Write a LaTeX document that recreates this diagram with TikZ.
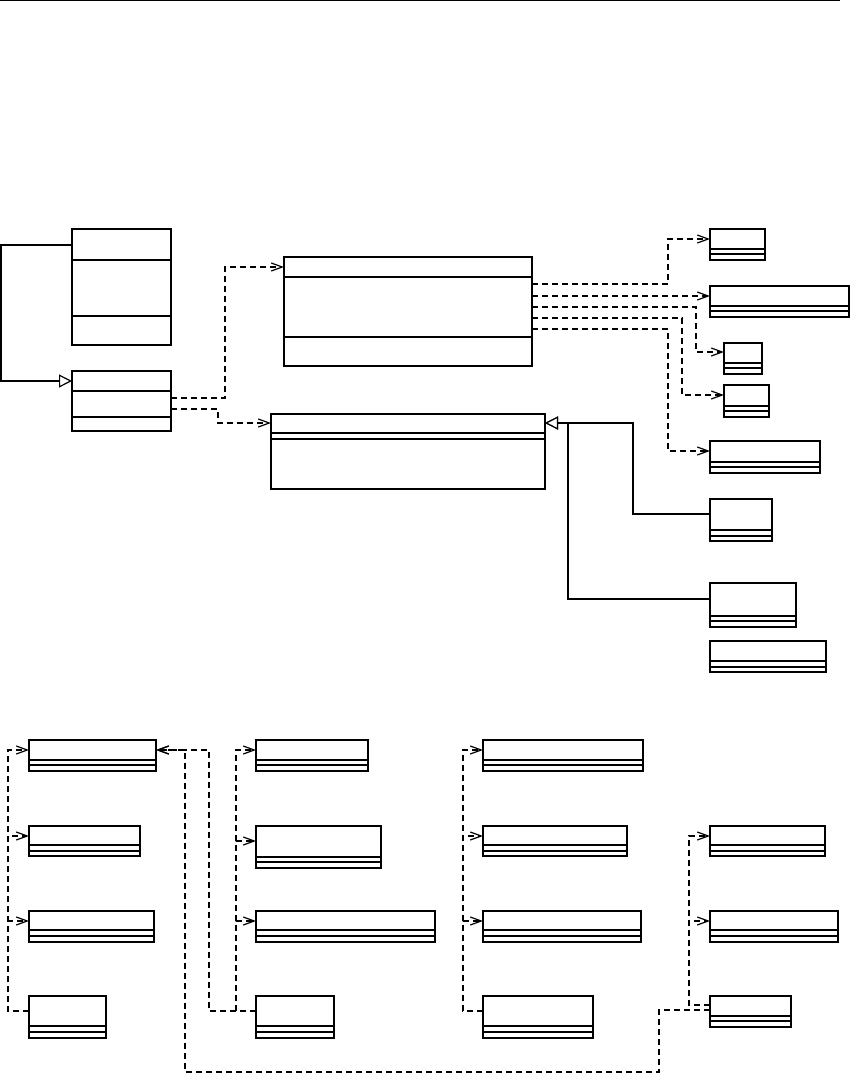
\documentclass[tikz,border=0pt]{standalone}
\usetikzlibrary{arrows.meta}
\newcommand{\umlclass}[7]{%
  \node[cls,minimum width=#4pt,minimum height=#5pt] (#1) at (#2,#3) {};
  \draw ([yshift=-#6pt]#1.north west) -- ([yshift=-#6pt]#1.north east);
  \draw ([yshift=-#7pt]#1.north west) -- ([yshift=-#7pt]#1.north east);}
\begin{document}
\begin{tikzpicture}[x=1pt,y=-1pt,line width=1.3pt,
  cls/.style={draw,rectangle,anchor=north west,inner sep=0pt,outer sep=0pt},
  dep/.style={line width=1.1pt,dash pattern=on 6pt off 4pt,-{Straight Barb[length=11pt,width=8pt,line width=1.2pt]}},
  depb/.style={dep,line width=2.4pt},
  gen/.style={line width=1.2pt,-{Triangle[open,length=13pt,width=13pt,fill=white,line width=1.2pt]}}]
\useasboundingbox (0,0) rectangle (850,1082);
\draw (0,0.6) -- (840,0.6);
\umlclass{A}{72}{229}{99}{116}{31}{87}
\umlclass{B}{72}{371}{99}{60}{20}{46}
\umlclass{C}{284}{257}{248}{109}{20}{80}
\umlclass{D}{271}{414}{274}{75}{19}{25}
\umlclass{E}{710}{229}{55}{31}{20}{25}
\umlclass{F}{710}{286}{139}{31}{20}{25}
\umlclass{G}{724}{343}{38}{31}{20}{25}
\umlclass{H}{724}{385}{45}{32}{21}{26}
\umlclass{I}{710}{441}{110}{32}{21}{26}
\umlclass{J}{710}{499}{62}{42}{31}{37}
\umlclass{K}{710}{583}{86}{44}{33}{38}
\umlclass{L}{710}{641}{116}{31}{20}{26}
\umlclass{M1}{29}{740}{127}{31}{20}{25}
\umlclass{M2}{29}{826}{111}{30}{19}{25}
\umlclass{M3}{29}{911}{125}{31}{19}{25}
\umlclass{M4}{29}{996}{77}{42}{30}{36}
\umlclass{N1}{256}{740}{112}{31}{20}{25}
\umlclass{N2}{256}{826}{125}{42}{31}{36}
\umlclass{N3}{256}{911}{179}{31}{19}{25}
\umlclass{N4}{256}{996}{78}{42}{30}{36}
\umlclass{P1}{483}{740}{160}{31}{20}{25}
\umlclass{P2}{483}{826}{144}{30}{19}{25}
\umlclass{P3}{483}{911}{158}{31}{19}{25}
\umlclass{P4}{483}{996}{110}{42}{30}{36}
\umlclass{Q2}{710}{826}{115}{30}{19}{25}
\umlclass{Q3}{710}{911}{128}{31}{19}{25}
\umlclass{Q4}{710}{996}{81}{31}{20}{25}
\draw[gen,line width=1.8pt] ([yshift=-16pt]A.north west) -- ++(-71,0) |- ([yshift=-10pt]B.north west);
\draw[depb] ([yshift=-27pt]B.north east) -- ++(54,0) |- ([yshift=-10pt]C.north west);
\draw[dep] ([yshift=-38pt]B.north east) -- ++(47,0) |- ([yshift=-9pt]D.north west);
\draw[dep] ([yshift=-27pt]C.north east) -- ++(136,0) |- ([yshift=-10pt]E.north west);
\draw[depb] ([yshift=-39pt]C.north east) -- ([yshift=-10pt]F.north west);
\draw[dep] ([yshift=-50pt]C.north east) -- ++(164,0) |- ([yshift=-9pt]G.north west);
\draw[dep] ([yshift=-61pt]C.north east) -- ++(150,0) |- ([yshift=-10pt]H.north west);
\draw[depb] ([yshift=-72pt]C.north east) -- ++(136,0) |- ([yshift=-10pt]I.north west);
\draw[gen] ([yshift=-16pt]K.north west) -- ++(-142,0) |- ([yshift=-9pt]D.north east);
\draw[gen] ([yshift=-15pt]J.north west) -- ++(-77,0) |- ([yshift=-9pt]D.north east);
\foreach \t/\o in {M1/10,M2/10,M3/10}
  \draw[dep] ([yshift=-15pt]M4.north west) -- ++(-21,0) |- ([yshift=-\o pt]\t.north west);
\foreach \t/\o in {N1/10,N2/15,N3/10}
  \draw[dep] ([yshift=-15pt]N4.north west) -- ++(-20,0) |- ([yshift=-\o pt]\t.north west);
\draw[depb] ([yshift=-15pt]N4.north west) -- ++(-47,0) |- ([yshift=-10pt]M1.north east);
\foreach \t in {P1,P2,P3}
  \draw[depb] ([yshift=-15pt]P4.north west) -- ++(-20,0) |- ([yshift=-10pt]\t.north west);
\foreach \t in {Q2,Q3}
  \draw[dep] ([yshift=-9pt]Q4.north west) -- ++(-21,0) |- ([yshift=-10pt]\t.north west);
\draw[dep] ([yshift=-14pt]Q4.north west) -- ++(-51,0) |- (185,1072) |- ([yshift=-10pt]M1.north east);
\end{tikzpicture}
\end{document}
